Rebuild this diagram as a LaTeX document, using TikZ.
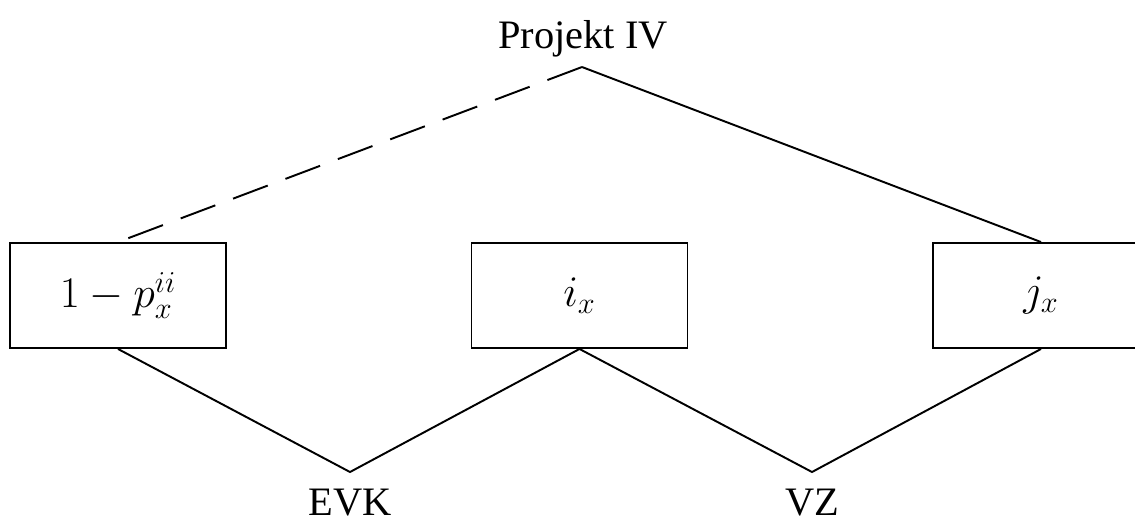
\documentclass[tikz,border=0pt]{standalone}
\usepackage{fontspec}
\setmainfont{Liberation Serif}

\begin{document}
\begin{tikzpicture}[x=0.02cm,y=-0.02cm,line width=1.1pt]
    \tikzstyle{every node}+=[font=\fontsize{23}{28}\selectfont]
    \tikzstyle{factor}=[draw,minimum width=4.32cm,minimum height=2.1cm,inner sep=0pt]
    \useasboundingbox (0,0) rectangle (1135,522);
    \clip (0,0) rectangle (1135,522);
    % top
    \node [anchor=base] (proj) at (583,48) {Projekt IV};
    \coordinate (apex) at (582,67);
    % boxes
    \node [factor] (pii) at (118,295.5) {$1-p_x^{ii}$};
    \node [factor] (ix) at (579.5,295.5) {$i_x$};
    \node [factor] (jx) at (1041,295.5) {$j_x$};
    % bottom
    \coordinate (evkv) at (350,472);
    \coordinate (vzv) at (812,472);
    \node [anchor=base] (evk) at (350,515) {EVK};
    \node [anchor=base] (vz) at (812,515) {VZ};
    % lines
    \draw [dash pattern=on 0.74cm off 0.38cm] (apex) -- (pii.north);
    \draw (apex) -- (jx.north);
    \draw (pii.south) -- (evkv) -- (ix.south) -- (vzv) -- (jx.south);
\end{tikzpicture}
\end{document}
